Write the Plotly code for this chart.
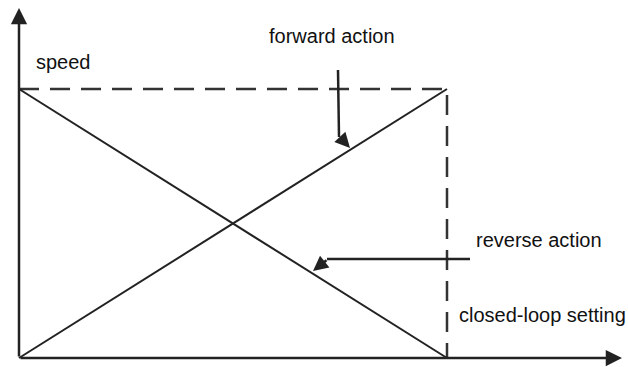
import plotly.graph_objects as go

# normalised closed-loop setting (x) vs speed (y)
setting = [0, 1]
forward_speed = [0, 1]
reverse_speed = [1, 0]
limit_x = [0, 1, 1]
limit_y = [1, 1, 0]

ink = "#222222"
font = dict(family="Liberation Sans, Arial", size=20, color="#111111")

# pixel -> data helpers (origin at px (19,358), setting=1 at px 447, speed=1 at px 89)
def dx(px):
    return (px - 19) / 428.0

def dy(py):
    return (358 - py) / 269.0

fig = go.Figure()
fig.add_trace(go.Scatter(x=limit_x, y=limit_y, mode="lines",
                         line=dict(color="#333333", width=2.5, dash="20px,11px"),
                         hoverinfo="skip"))
fig.add_trace(go.Scatter(x=setting, y=forward_speed, mode="lines",
                         line=dict(color=ink, width=2), hoverinfo="skip"))
fig.add_trace(go.Scatter(x=setting, y=reverse_speed, mode="lines",
                         line=dict(color=ink, width=2), hoverinfo="skip"))

# pointer leaders
fig.add_trace(go.Scatter(x=[dx(338), dx(339)], y=[dy(70), dy(137)], mode="lines",
                         line=dict(color=ink, width=2.5), hoverinfo="skip"))
fig.add_trace(go.Scatter(x=[dx(470), dx(327)], y=[dy(259), dy(259)], mode="lines",
                         line=dict(color=ink, width=2.5), hoverinfo="skip"))


def arrow(x0, y0, x1, y1, size=1.4, width=2.5):
    fig.add_annotation(x=x1, y=y1, ax=x0, ay=y0, xref="x", yref="y", axref="x", ayref="y",
                       showarrow=True, arrowhead=2, arrowsize=size, arrowwidth=width,
                       arrowcolor=ink, standoff=0, text="")


# axes with arrows
arrow(0, 0, 0, dy(8), size=1.3, width=2.5)
arrow(0, 0, dx(622), 0, size=1.3, width=2.5)
# pointer heads
arrow(dx(339), dy(136), dx(350), dy(148), size=1.2, width=2.5)
arrow(dx(328), dy(259), dx(313), dy(271), size=1.2, width=2.5)

labels = [("speed", 34, 62), ("forward action", 267, 36),
          ("reverse action", 474, 240), ("closed-loop setting", 457, 315)]
for txt, px, py in labels:
    fig.add_annotation(x=dx(px), y=dy(py), xref="x", yref="y", text=txt,
                       showarrow=False, xanchor="left", yanchor="middle", font=font)

fig.update_layout(
    width=628, height=367,
    margin=dict(l=0, r=0, t=0, b=0),
    paper_bgcolor="white", plot_bgcolor="white",
    showlegend=False,
    xaxis=dict(range=[dx(0), dx(628)], visible=False, fixedrange=True),
    yaxis=dict(range=[dy(367), dy(0)], visible=False, fixedrange=True),
)

fig.write_html("out.html", config={"displayModeBar": False},
               post_script="document.body.style.margin='0';")
